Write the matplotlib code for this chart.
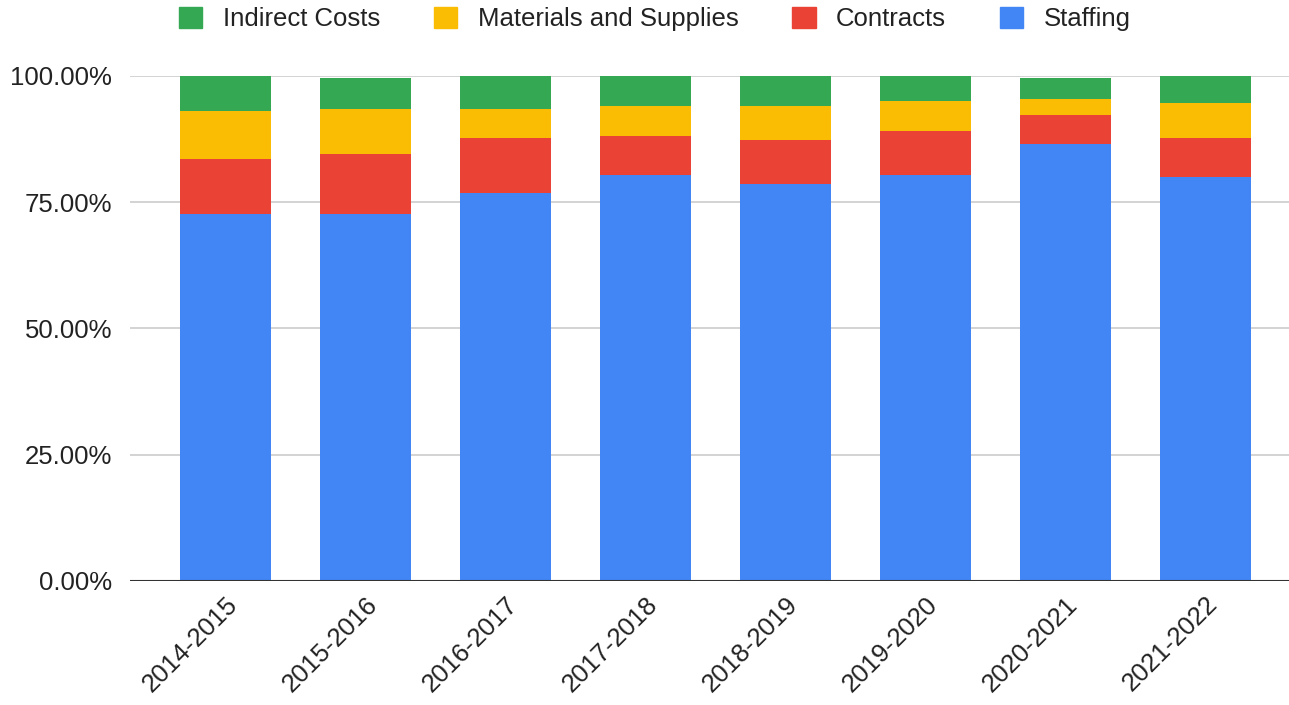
import numpy as np
import matplotlib
matplotlib.use("Agg")
import matplotlib.pyplot as plt
from matplotlib.patches import Patch
from matplotlib.ticker import FuncFormatter

plt.rcParams["font.family"] = ["Liberation Sans", "DejaVu Sans"]

# data (percent of total)
years = ["2014-2015", "2015-2016", "2016-2017", "2017-2018",
         "2018-2019", "2019-2020", "2020-2021", "2021-2022"]
staffing = [72.7, 72.7, 76.8, 80.4, 78.6, 80.4, 86.4, 80.0]
contracts = [10.9, 11.8, 10.9, 7.7, 8.6, 8.7, 5.8, 7.7]
materials = [9.5, 9.0, 5.8, 5.9, 6.8, 5.8, 3.2, 6.8]
indirect = [6.9, 6.0, 6.5, 6.0, 6.0, 5.1, 4.1, 5.5]

series = [("Staffing", staffing, "#4285F4"),
          ("Contracts", contracts, "#EA4335"),
          ("Materials and Supplies", materials, "#FBBC04"),
          ("Indirect Costs", indirect, "#34A853")]

W, H = 1289, 705
fig = plt.figure(figsize=(W / 100, H / 100), dpi=100)
ax = fig.add_axes([130 / W, 1 - 581 / H, 1 - 130 / W, (581 - 75.7) / H])

x = np.arange(len(years))
bottom = np.zeros(len(years))
for name, vals, col in series:
    ax.bar(x, vals, width=0.65, bottom=bottom, color=col, linewidth=0,
           zorder=3, clip_on=False)
    bottom += np.array(vals)

ax.set_xlim(-0.682, 7.596)
ax.set_ylim(0, 100)
ax.set_yticks([0, 25, 50, 75, 100])
ax.yaxis.set_major_formatter(FuncFormatter(lambda v, p: f"{v:.2f}%"))
ax.grid(axis="y", color="#cccccc", linewidth=1.2, zorder=0)
ax.axhline(0, color="#333333", linewidth=1.5, zorder=4)
for s in ax.spines.values():
    s.set_visible(False)
ax.tick_params(length=0, labelsize=18.5, labelcolor="#222222", pad=13)
ax.tick_params(axis="x", pad=8)
ax.set_xticks(x)
ax.set_xticklabels(years, rotation=45, ha="right", rotation_mode="anchor")

handles = [Patch(color=c, label=n) for n, _, c in reversed(series)]
fig.legend(handles=handles, loc="center", bbox_to_anchor=(655 / W, 1 - 19 / H),
           ncol=4, frameon=False, fontsize=18.5, handlelength=0.9,
           handleheight=0.9, handletextpad=0.8, columnspacing=2.1,
           labelcolor="#222222")

fig.savefig("out.png", dpi=100)
